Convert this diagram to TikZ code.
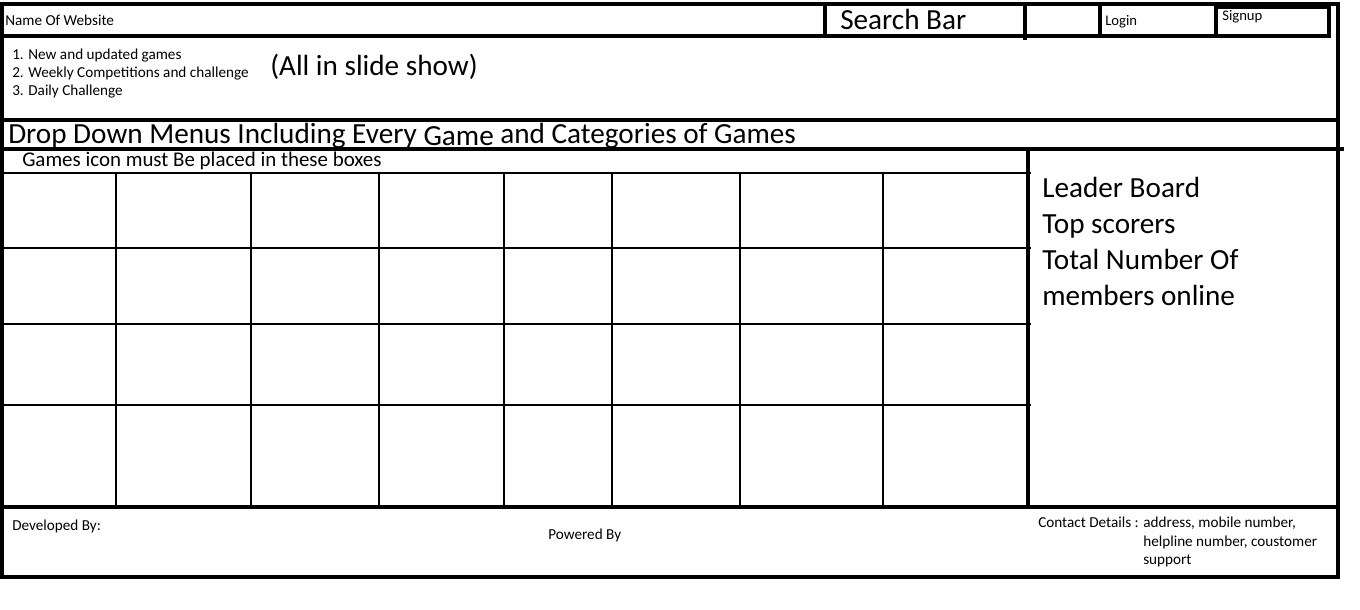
\documentclass[tikz,border=0pt]{standalone}
\usepackage{fontspec}
\setmainfont{Carlito}
\usetikzlibrary{positioning}
\tikzset{
    frame/.style = {line width=2.3pt},
    grid/.style = {line width=2.1pt},
    small/.style = {anchor=base west, inner sep=0pt, font=\fontsize{11.4pt}{13pt}\selectfont},
    tiny/.style = {anchor=base west, inner sep=0pt, font=\fontsize{11pt}{13pt}\selectfont},
    mid/.style = {anchor=base west, inner sep=0pt, font=\fontsize{15.7pt}{18pt}\selectfont},
    big/.style = {anchor=base west, inner sep=0pt, font=\fontsize{21.9pt}{25pt}\selectfont}
}
\begin{document}
\begin{tikzpicture}[x=0.75pt,y=-0.75pt]
      \useasboundingbox (0,0) rectangle (1360,610);

      % outer frame and bands
      \draw[frame] (2,4) rectangle (1338,577);
      \draw[frame] (2,36) -- (1100,36);
      \draw[frame] (825,4) -- (825,36);
      \draw[frame] (1025,4) -- (1025,40);
      \draw[frame] (1100,4) rectangle (1216,36);
      \draw[frame] (1216,7) rectangle (1329,36);
      \draw[frame] (2,120) -- (1338,120);
      \draw[frame] (2,149) -- (1344,149);
      \draw[frame] (2,507) -- (1338,507);
      \draw[frame] (1028,149) -- (1028,507);

      % game boxes
      \foreach \y in {173,248,324,405}
        \draw[grid] (2,\y) -- (1031,\y);
      \foreach \x in {116,251,379,504,612,740,883}
        \draw[grid] (\x,173) -- (\x,509);

      \node[small] (name) at (5,26) {Name Of Website};
      \node[big] (search) at (840,30) {Search Bar};
      \node[tiny] (login) at (1105,26) {Login};
      \node[tiny] (signup) at (1222,21) {Signup};

      \node[small] (l1) at (12,60) {1. New and updated games};
      \node[small] (l2) at (12,78) {2. Weekly Competitions and challenge};
      \node[small] (l3) at (12,96) {3. Daily Challenge};
      \node[big] (slide) at (270,76) {(All in slide show)};

      \node[big] (menu) at (8,143) {Drop Down Menus Including Every \raisebox{-2pt}{Game} and Categories of Games};
      \node[mid] (icons) at (22,166) {Games icon must Be placed in these boxes};

      \node[big] (lead) at (1042,197) {Leader Board};
      \node[big] (top) at (1042,233) {Top scorers};
      \node[big] (total) at (1042,269) {Total Number Of};
      \node[big] (online) at (1042,305) {members online};

      \node[small] (dev) at (12,530) {Developed By:};
      \node[small] (power) at (548,539) {Powered By};
      \node[small] (contact) at (1038,527) {Contact Details : address, mobile number,};
      \node[small] (help) at (1143,546) {helpline number, coustomer};
      \node[small] (support) at (1143,564) {support};
\end{tikzpicture}
\end{document}
